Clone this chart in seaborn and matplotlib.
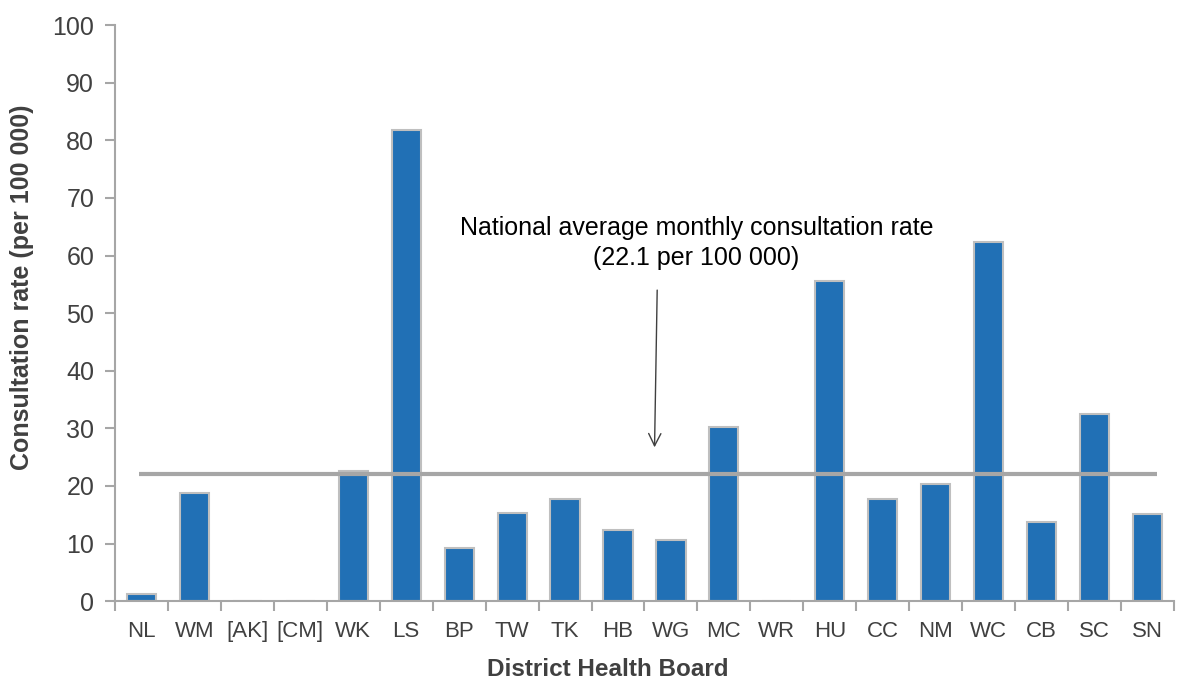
import matplotlib
matplotlib.use("Agg")
import matplotlib.pyplot as plt
import seaborn as sns
import pandas as pd

# District Health Boards and monthly consultation rates (per 100 000)
districts = ["NL", "WM", "[AK]", "[CM]", "WK", "LS", "BP", "TW", "TK", "HB",
             "WG", "MC", "WR", "HU", "CC", "NM", "WC", "CB", "SC", "SN"]
rates = [1.2, 18.7, 0.0, 0.0, 22.6, 81.8, 9.2, 15.3, 17.7, 12.3,
         10.6, 30.2, 0.0, 55.6, 17.7, 20.4, 62.3, 13.7, 32.5, 15.1]
national_avg = 22.1

df = pd.DataFrame({"district": districts, "rate": rates})

sns.set_style("white")
plt.rcParams["font.family"] = ["Liberation Sans", "DejaVu Sans"]

fig = plt.figure(figsize=(11.78, 6.8), dpi=100)
ax = fig.add_axes([0.0976, 0.116, 0.899, 0.847])

sns.barplot(data=df, x="district", y="rate", color="#2170b5", saturation=1,
            width=0.55, edgecolor="#bfbfbf", linewidth=1.5, ax=ax)

# national average line
ax.hlines(national_avg, -0.05, 19.17, color="#a6a6a6", linewidth=3, zorder=3)

ax.text(10.48, 62.2, "National average monthly consultation rate\n(22.1 per 100 000)",
        ha="center", va="center", fontsize=18, color="black", linespacing=1.3)
ax.annotate("", xy=(9.69, 26.7), xytext=(9.74, 54.0),
            arrowprops=dict(arrowstyle="->", color="#404040", lw=1,
                            shrinkA=0, shrinkB=0, mutation_scale=22))

ax.set_ylim(0, 100)
ax.set_xlim(-0.5, 19.5)
ax.set_yticks(range(0, 101, 10))
ax.set_xticks([i - 0.5 for i in range(21)], minor=True)
ax.tick_params(axis="x", which="major", length=0, labelsize=16,
               labelcolor="#404040", pad=14)
ax.tick_params(axis="x", which="minor", length=7, width=1.5, color="#a6a6a6",
               direction="out", bottom=True)
ax.tick_params(axis="y", length=7, width=1.5, color="#a6a6a6", labelsize=18,
               labelcolor="#404040", left=True, pad=8)

for s in ["top", "right"]:
    ax.spines[s].set_visible(False)
for s in ["left", "bottom"]:
    ax.spines[s].set_color("#a6a6a6")
    ax.spines[s].set_linewidth(1.5)

ax.set_xlabel("District Health Board", fontsize=17.5, fontweight="bold",
              color="#404040", va="center")
ax.set_ylabel("Consultation rate (per 100 000)", fontsize=18, fontweight="bold",
              color="#404040", va="center")
ax.xaxis.set_label_coords(0.465, -0.119)
ax.yaxis.set_label_coords(-0.088, 0.545)

fig.savefig("out.png", dpi=100)
